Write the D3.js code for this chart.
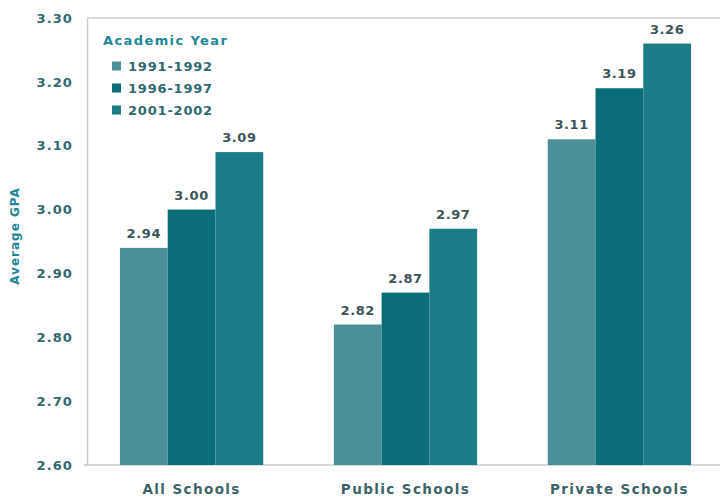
<!DOCTYPE html>
<html><head><meta charset="utf-8">
<script src="https://cdn.jsdelivr.net/npm/d3@7"></script>
<style>body{margin:0;background:#fff}svg{display:block}text{font-family:"DejaVu Sans",sans-serif;font-weight:bold}</style>
</head><body>
<script>
const categories = ["All Schools", "Public Schools", "Private Schools"];
const years = ["1991-1992", "1996-1997", "2001-2002"];
const v1991 = [2.94, 2.82, 3.11];
const v1996 = [3.00, 2.87, 3.19];
const v2001 = [3.09, 2.97, 3.26];
const yTicks = [2.60, 2.70, 2.80, 2.90, 3.00, 3.10, 3.20, 3.30];
const colors = ["#4b8f98", "#0b6d78", "#1b7b87"];
const series = [v1991, v1996, v2001];

const W = 720, H = 498;
const svg = d3.select("body").append("svg").attr("width", W).attr("height", H);
const mLeft = 87, mTop = 18, mBottom = 465, mRight = 720;
const LS = "1.1px";

const y = d3.scaleLinear().domain([2.6, 3.3]).range([mBottom, mTop]);
const x0 = d3.scaleBand().domain(categories).range([mLeft, 724]).paddingInner(0.33).paddingOuter(0.154);
const x1 = d3.scaleBand().domain(years).range([0, x0.bandwidth()]);

// frame lines
svg.append("line").attr("x1", mLeft).attr("x2", mRight).attr("y1", mTop).attr("y2", mTop).attr("stroke", "#c8cccc").attr("stroke-width", 1.5);
svg.append("line").attr("x1", mLeft - 3).attr("x2", mRight).attr("y1", mBottom).attr("y2", mBottom).attr("stroke", "#c8cccc").attr("stroke-width", 1.5);

const yAxis = svg.append("g").attr("transform", `translate(${mLeft},0)`)
  .call(d3.axisLeft(y).tickValues(yTicks).tickFormat(d3.format(".2f")).tickSize(0).tickPadding(14));
yAxis.select(".domain").attr("stroke", "#c8cccc").attr("stroke-width", 1.5);
yAxis.selectAll("text").attr("fill", "#2f6a70").attr("font-size", 13).attr("letter-spacing", LS)
  .attr("font-family", "DejaVu Sans").attr("font-weight", "bold");

// bars
const g = svg.append("g");
categories.forEach((c, i) => {
  series.forEach((s, j) => {
    g.append("rect")
      .attr("x", x0(c) + x1(years[j]))
      .attr("y", y(s[i]))
      .attr("width", x1.bandwidth())
      .attr("height", y(2.6) - y(s[i]))
      .attr("fill", colors[j]);
    g.append("text")
      .attr("x", x0(c) + x1(years[j]) + x1.bandwidth() / 2)
      .attr("y", y(s[i]) - 10)
      .attr("text-anchor", "middle")
      .attr("font-size", 13)
      .attr("letter-spacing", "0.6px")
      .attr("fill", "#3c5558")
      .text(d3.format(".2f")(s[i]));
  });
});

// x axis labels
const xAxis = svg.append("g").attr("transform", `translate(0,${mBottom})`)
  .call(d3.axisBottom(x0).tickSize(0).tickPadding(19));
xAxis.select(".domain").remove();
xAxis.selectAll("text").attr("fill", "#3d6468").attr("font-size", 13.5).attr("letter-spacing", "1.4px")
  .attr("font-family", "DejaVu Sans").attr("font-weight", "bold");

// y title
svg.append("text").attr("transform", "translate(19,236) rotate(-90)")
  .attr("text-anchor", "middle").attr("font-size", 12).attr("letter-spacing", "1px")
  .attr("fill", "#1f8897").text("Average GPA");

// legend
const lg = svg.append("g").attr("transform", "translate(103,0)");
lg.append("text").attr("x", 0).attr("y", 45).attr("font-size", 13).attr("letter-spacing", "1.4px")
  .attr("fill", "#1f8897").text("Academic Year");
years.forEach((yr, j) => {
  const yy = 66 + j * 22;
  lg.append("rect").attr("x", 9).attr("y", yy - 4.5).attr("width", 9).attr("height", 9).attr("fill", colors[j]);
  lg.append("text").attr("x", 25).attr("y", yy + 4.5).attr("font-size", 13).attr("letter-spacing", "0.8px")
    .attr("fill", "#2f6a70").text(yr);
});
</script>
</body></html>
